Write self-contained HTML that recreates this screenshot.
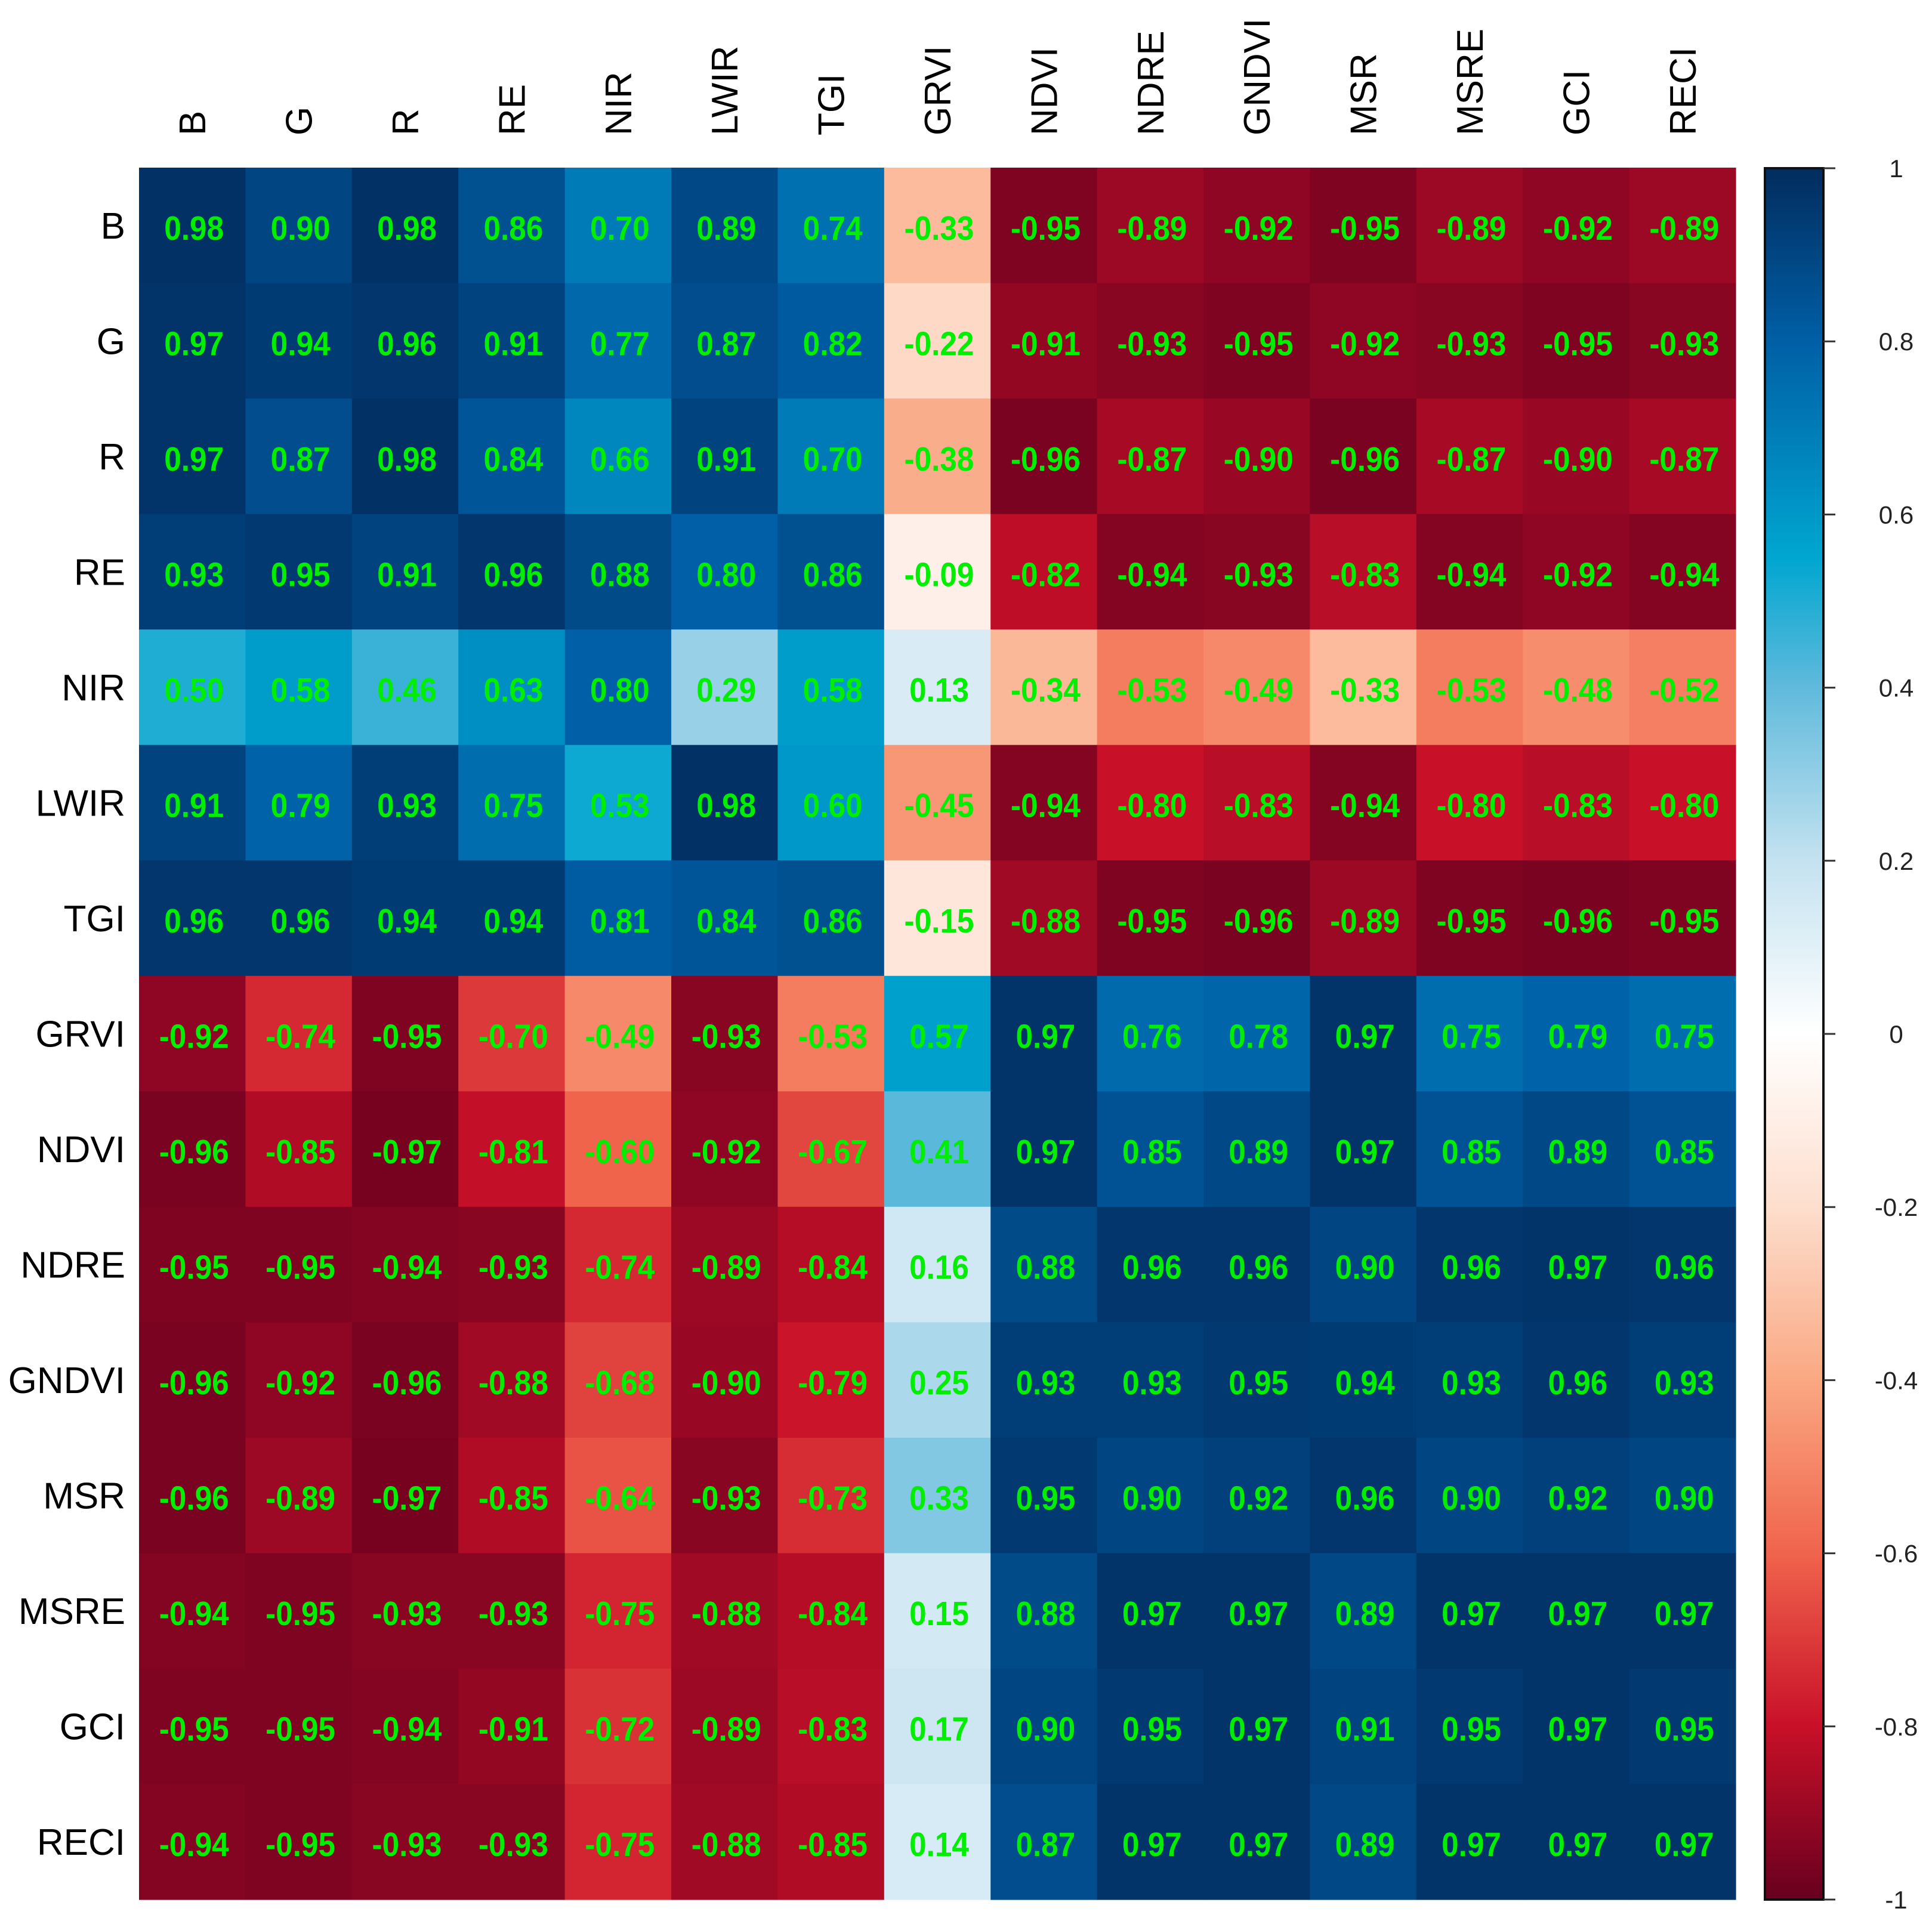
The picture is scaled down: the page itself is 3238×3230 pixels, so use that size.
<!DOCTYPE html>
<html><head><meta charset="utf-8"><style>
html,body{margin:0;padding:0;background:#fff;}
svg{display:block;}
</style></head><body>
<svg id="chart" width="3238" height="3230" xmlns="http://www.w3.org/2000/svg">
<defs>
<linearGradient id="cbgrad" x1="0" y1="0" x2="0" y2="1"></linearGradient>
</defs>
<g id="cells"></g>
<g id="vals"></g>
<g id="rowlabels"></g>
<g id="collabels"></g>
<g id="colorbar"></g>
</svg>
<script>
const labels = ["B","G","R","RE","NIR","LWIR","TGI","GRVI","NDVI","NDRE","GNDVI","MSR","MSRE","GCI","RECI"];
const row_B     = [0.98,0.90,0.98,0.86,0.70,0.89,0.74,-0.33,-0.95,-0.89,-0.92,-0.95,-0.89,-0.92,-0.89];
const row_G     = [0.97,0.94,0.96,0.91,0.77,0.87,0.82,-0.22,-0.91,-0.93,-0.95,-0.92,-0.93,-0.95,-0.93];
const row_R     = [0.97,0.87,0.98,0.84,0.66,0.91,0.70,-0.38,-0.96,-0.87,-0.90,-0.96,-0.87,-0.90,-0.87];
const row_RE    = [0.93,0.95,0.91,0.96,0.88,0.80,0.86,-0.09,-0.82,-0.94,-0.93,-0.83,-0.94,-0.92,-0.94];
const row_NIR   = [0.50,0.58,0.46,0.63,0.80,0.29,0.58,0.13,-0.34,-0.53,-0.49,-0.33,-0.53,-0.48,-0.52];
const row_LWIR  = [0.91,0.79,0.93,0.75,0.53,0.98,0.60,-0.45,-0.94,-0.80,-0.83,-0.94,-0.80,-0.83,-0.80];
const row_TGI   = [0.96,0.96,0.94,0.94,0.81,0.84,0.86,-0.15,-0.88,-0.95,-0.96,-0.89,-0.95,-0.96,-0.95];
const row_GRVI  = [-0.92,-0.74,-0.95,-0.70,-0.49,-0.93,-0.53,0.57,0.97,0.76,0.78,0.97,0.75,0.79,0.75];
const row_NDVI  = [-0.96,-0.85,-0.97,-0.81,-0.60,-0.92,-0.67,0.41,0.97,0.85,0.89,0.97,0.85,0.89,0.85];
const row_NDRE  = [-0.95,-0.95,-0.94,-0.93,-0.74,-0.89,-0.84,0.16,0.88,0.96,0.96,0.90,0.96,0.97,0.96];
const row_GNDVI = [-0.96,-0.92,-0.96,-0.88,-0.68,-0.90,-0.79,0.25,0.93,0.93,0.95,0.94,0.93,0.96,0.93];
const row_MSR   = [-0.96,-0.89,-0.97,-0.85,-0.64,-0.93,-0.73,0.33,0.95,0.90,0.92,0.96,0.90,0.92,0.90];
const row_MSRE  = [-0.94,-0.95,-0.93,-0.93,-0.75,-0.88,-0.84,0.15,0.88,0.97,0.97,0.89,0.97,0.97,0.97];
const row_GCI   = [-0.95,-0.95,-0.94,-0.91,-0.72,-0.89,-0.83,0.17,0.90,0.95,0.97,0.91,0.95,0.97,0.95];
const row_RECI  = [-0.94,-0.95,-0.93,-0.93,-0.75,-0.88,-0.85,0.14,0.87,0.97,0.97,0.89,0.97,0.97,0.97];
const matrix = [row_B,row_G,row_R,row_RE,row_NIR,row_LWIR,row_TGI,row_GRVI,row_NDVI,row_NDRE,row_GNDVI,row_MSR,row_MSRE,row_GCI,row_RECI];
const colorbarTicks = [1,0.8,0.6,0.4,0.2,0,-0.2,-0.4,-0.6,-0.8,-1];
const colorbarTickLabels = ["1","0.8","0.6","0.4","0.2","0","-0.2","-0.4","-0.6","-0.8","-1"];

const NS="http://www.w3.org/2000/svg";
const GX0=233, GX1=2909, GY0=281, GY1=3184;
const n=labels.length, cw=(GX1-GX0)/n, ch=(GY1-GY0)/n;
const CBX0=2958, CBX1=3056, CBY0=282, CBY1=3184;
function xPos(j){return GX0+j*cw;}
function yPos(i){return GY0+i*ch;}
function cbY(v){return CBY0+(1-v)/2*(CBY1-CBY0);}
const stops=[[-1,[103,0,31]],[-0.8,[200,16,40]],[-0.6,[240,100,76]],[-0.4,[250,168,130]],[-0.2,[253,222,205]],[0,[255,255,255]],[0.2,[196,226,240]],[0.4,[96,186,220]],[0.55,[0,166,208]],[0.8,[0,95,166]],[1,[2,44,94]]];
function color(v){
  for(let k=0;k<stops.length-1;k++){
    const a=stops[k],b=stops[k+1];
    if(v<=b[0]){const t=(v-a[0])/(b[0]-a[0]);
      const c=a[1].map((x,i)=>Math.round(x+(b[1][i]-x)*t));
      return `rgb(${c[0]},${c[1]},${c[2]})`;}
  }
  return 'rgb(2,44,94)';
}
function mk(tag,attrs,parent){const e=document.createElementNS(NS,tag);for(const k in attrs)e.setAttribute(k,attrs[k]);parent.appendChild(e);return e;}
const gC=document.getElementById('cells'),gV=document.getElementById('vals'),gR=document.getElementById('rowlabels'),gL=document.getElementById('collabels'),gB=document.getElementById('colorbar');
for(let i=0;i<n;i++){
  for(let j=0;j<n;j++){
    const v=matrix[i][j];
    const r=mk('rect',{x:xPos(j),y:yPos(i),width:cw+0.6,height:ch+0.6,fill:color(v)},gC);
    
    
    const cx=xPos(j)+cw/2+3, cy=yPos(i)+ch/2+24;
    const t=mk('text',{x:0,y:0,transform:`translate(${cx},${cy}) scale(0.9,1)`,'text-anchor':'middle','font-family':'"Liberation Sans", sans-serif','font-weight':'bold','font-size':57,fill:'#00ee00'},gV);
    
    
    t.textContent=v.toFixed(2);
  }
  const rl=mk('text',{x:210,y:yPos(i)+ch/2+22,'text-anchor':'end','font-family':'"Liberation Sans", sans-serif','font-size':62,fill:'#000'},gR);
  
  
  rl.textContent=labels[i];
  const cx=xPos(i)+cw/2+22;
  const cl=mk('text',{x:0,y:0,transform:`translate(${cx},227) rotate(-90)`,'text-anchor':'start','font-family':'"Liberation Sans", sans-serif','font-size':62,fill:'#000'},gL);
  
  
  cl.textContent=labels[i];
}
const grad=document.getElementById('cbgrad');
for(let k=stops.length-1;k>=0;k--){
  const s=stops[k];
  mk('stop',{offset:((1-s[0])/2*100)+'%','stop-color':`rgb(${s[1].join(',')})`},grad);
}
const cb=mk('rect',{x:CBX0,y:CBY0,width:CBX1-CBX0,height:CBY1-CBY0,fill:'url(#cbgrad)',stroke:'#111','stroke-width':4},gB);


for(let k=0;k<colorbarTicks.length;k++){
  const y=cbY(colorbarTicks[k]);
  const tk=mk('line',{x1:CBX1,x2:3076,y1:y,y2:y,stroke:'#333','stroke-width':3},gB);
  
  
  const tl=mk('text',{x:3178,y:y+15,'text-anchor':'middle','font-family':'"Liberation Sans", sans-serif','font-size':42,fill:'#222'},gB);
  
  
  tl.textContent=colorbarTickLabels[k];
}
</script>
</body></html>
